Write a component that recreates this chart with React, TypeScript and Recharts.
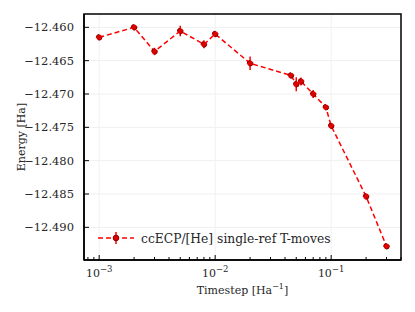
import { CartesianGrid, ErrorBar, Legend, Line, LineChart, ReferenceArea, XAxis, YAxis } from "recharts";

const timesteps = [0.001, 0.002, 0.003, 0.005, 0.008, 0.01, 0.02, 0.045, 0.05, 0.055, 0.07, 0.09, 0.1, 0.2, 0.3];
const energies = [-12.4615, -12.46, -12.46362, -12.46055, -12.46255, -12.461, -12.46539, -12.46722, -12.46853, -12.46811, -12.47001, -12.47198, -12.47478, -12.48536, -12.49284];
const errors = [0.00015, 0.0001, 0.00055, 0.0008, 0.0006, 0.00045, 0.001, 0.0002, 0.00105, 0.0006, 0.0006, 0.0002, 0.0003, 0.00015, 0.00015];

const xMajor = [1e-3, 1e-2, 1e-1];
const xMinor = [8e-4, 9e-4, 2e-3, 3e-3, 4e-3, 5e-3, 6e-3, 7e-3, 8e-3, 9e-3, 2e-2, 3e-2, 4e-2, 5e-2, 6e-2, 7e-2, 8e-2, 9e-2, 2e-1, 3e-1, 4e-1];
const yTicks = [-12.49, -12.485, -12.48, -12.475, -12.47, -12.465, -12.46];
const seriesName = "ccECP/[He] single-ref T-moves";

const xDomain = [7.4e-4, 0.4];
const yDomain = [-12.4949, -12.458];

const data = timesteps.map((t, i) => ({ t, e: energies[i], err: errors[i] }));

const FONT = "DejaVu Serif, serif";
const TXT = "#262626";

const XTick = ({ x, y, payload }: any) => {
    const v = payload.value;
    const lg = Math.log10(v);
    const major = Math.abs(lg - Math.round(lg)) < 1e-6;
    return <g>
        <line x1={x} x2={x} y1={y} y2={y - (major ? 5 : 3)} stroke="#000" strokeWidth={1} />
        {major && <text x={x} y={y + 17} textAnchor="middle" style={{ fontFamily: FONT }} fontSize={11} fill={TXT}>
            10<tspan dy={-5} fontSize={8.5}>−{-Math.round(lg)}</tspan>
        </text>}
    </g>;
};

const YTick = ({ x, y, payload }: any) => <g>
    <line x1={x} x2={x + 5} y1={y} y2={y} stroke="#000" strokeWidth={1} />
    <text x={x - 10} y={y} dy="0.35em" textAnchor="end" style={{ fontFamily: FONT }} fontSize={11.5} fill={TXT}>
        {payload.value.toFixed(3).replace("-", "−")}
    </text>
</g>;

const LegendBox = () => <svg width={260} height={20} style={{ display: "block" }}>
    <line x1={3} x2={39} y1={10} y2={10} stroke="#ff0000" strokeWidth={1.5} strokeDasharray="5 3" />
    <line x1={21} x2={21} y1={4} y2={16} stroke="#ff0000" strokeWidth={1.5} />
    <circle cx={21} cy={10} r={2.8} fill="#e00000" stroke="#8a0000" strokeWidth={1} />
    <text x={46} y={14.5} style={{ fontFamily: FONT }} fontSize={12.3} fill={TXT}>{seriesName}</text>
</svg>;

const App = () => <div style={{ position: "absolute", left: 0, top: 0, width: 415, height: 312, background: "#fff" }}>
    <LineChart width={415} height={312} data={data} margin={{ top: 14, right: 14, bottom: 0, left: 0 }}>
        <CartesianGrid stroke="#f0f0f0" strokeWidth={1} verticalValues={xMajor} horizontalValues={yTicks} />
        <XAxis dataKey="t" type="number" scale="log" domain={xDomain} allowDataOverflow
            ticks={[...xMinor, ...xMajor].sort((a, b) => a - b)} interval={0}
            tick={<XTick />} tickLine={false} tickSize={0} tickMargin={0} height={52}
            axisLine={{ stroke: "#000", strokeWidth: 1.5 }}
            label={({ viewBox }: any) => <text x={viewBox.x + viewBox.width / 2} y={viewBox.y + 33.5} textAnchor="middle" style={{ fontFamily: FONT }} fontSize={11} fill={TXT}>
                Timestep [Ha<tspan dy={-5} fontSize={8}>−1</tspan><tspan dy={5}>]</tspan>
            </text>} />
        <YAxis type="number" domain={yDomain} allowDataOverflow ticks={yTicks} interval={0}
            tick={<YTick />} tickLine={false} tickSize={0} tickMargin={0} width={84}
            axisLine={{ stroke: "#000", strokeWidth: 1.5 }}
            label={({ viewBox }: any) => {
                const cx = viewBox.x + 21, cy = viewBox.y + viewBox.height / 2;
                return <text x={cx} y={cy} transform={`rotate(-90 ${cx} ${cy})`} dy="0.35em" textAnchor="middle" style={{ fontFamily: FONT }} fontSize={11} fill={TXT}>Energy [Ha]</text>;
            }} />
        <ReferenceArea x1={xDomain[0]} x2={xDomain[1]} y1={yDomain[0]} y2={yDomain[1]} fill="none" fillOpacity={0} stroke="#000" strokeWidth={1.5} ifOverflow="visible" />
        <Line dataKey="e" name={seriesName} stroke="#ff0000" strokeWidth={1.5} strokeDasharray="5 3"
            dot={{ r: 2.8, fill: "#e00000", stroke: "#8a0000", strokeWidth: 1 }} activeDot={false} isAnimationActive={false}>
            <ErrorBar dataKey="err" direction="y" width={0} stroke="#ff0000" strokeWidth={1.5} isAnimationActive={false} />
        </Line>
        <Legend layout="horizontal" verticalAlign="middle" align="center" content={() => <LegendBox />}
            wrapperStyle={{ left: 95, top: 228, width: 260, height: 20 }} />
    </LineChart>
</div>;

export default App;
